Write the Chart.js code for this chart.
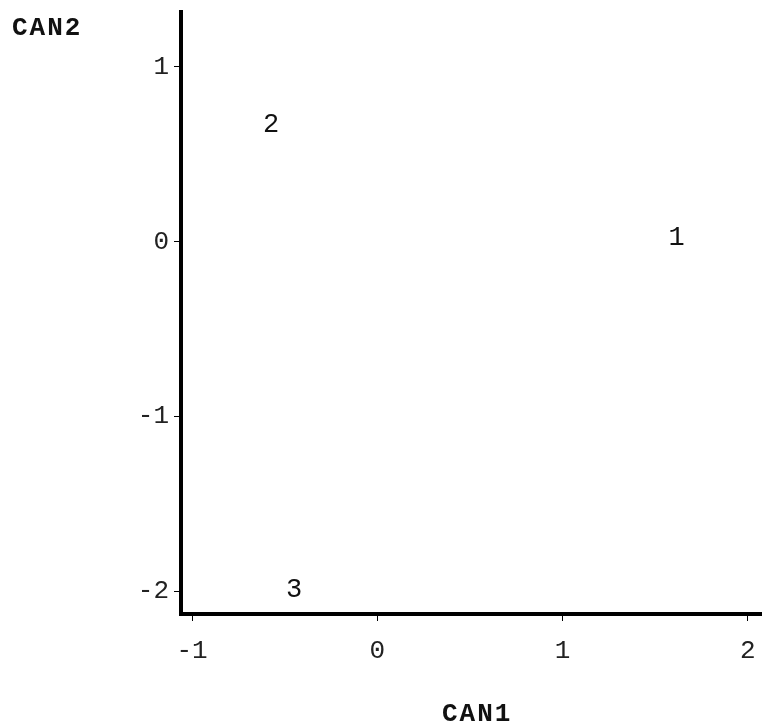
<!DOCTYPE html>
<html>
<head>
<meta charset="utf-8">
<script src="https://cdn.jsdelivr.net/npm/chart.js@4/dist/chart.umd.min.js"></script>
<style>
  html, body { margin: 0; padding: 0; background: #fff; }
  #wrap { width: 762px; height: 726px; }
</style>
</head>
<body>
<div id="wrap"><canvas id="canChart"></canvas></div>
<script>
const groupLabels = ["1", "2", "3"];
const can1 = [1.615, -0.574, -0.45];
const can2 = [0.02, 0.67, -1.99];
const xTicks = [-1, 0, 1, 2];
const yTicks = [-2, -1, 0, 1];
const xTitle = "CAN1";
const yTitle = "CAN2";

const monoFont = "'Liberation Mono', 'DejaVu Sans Mono', monospace";

// draws the group numbers at the scatter positions plus both axis titles
const labelPlugin = {
  id: "groupText",
  afterDatasetsDraw(chart) {
    const ctx = chart.ctx;
    const meta = chart.getDatasetMeta(0);
    ctx.save();
    ctx.fillStyle = "#111";
    ctx.font = "27px " + monoFont;
    ctx.textAlign = "center";
    ctx.textBaseline = "middle";
    meta.data.forEach((pt, i) => {
      ctx.fillText(groupLabels[i], pt.x, pt.y);
    });
    ctx.font = "bold 26px " + monoFont;
    if ("letterSpacing" in ctx) ctx.letterSpacing = "2px";
    ctx.textAlign = "left";
    ctx.fillText(yTitle, 12, 28);
    ctx.fillText(xTitle, 442, 714);
    ctx.restore();
  }
};

const points = can1.map((x, i) => ({ x: x, y: can2[i] }));

new Chart(document.getElementById("canChart"), {
  type: "scatter",
  data: {
    datasets: [{
      data: points,
      pointRadius: 0,
      pointHoverRadius: 0
    }]
  },
  options: {
    responsive: true,
    maintainAspectRatio: false,
    animation: false,
    layout: { padding: { top: 12, right: 0, left: 0, bottom: 0 } },
    plugins: {
      legend: { display: false },
      tooltip: { enabled: false }
    },
    scales: {
      x: {
        type: "linear",
        min: -1.06,
        max: 2.076,
        afterBuildTicks: (scale) => { scale.ticks = xTicks.map(v => ({ value: v })); },
        afterFit: (scale) => {
          scale.height = 112;
          scale.paddingLeft = 0;
          scale.paddingRight = 0;
        },
        grid: { drawOnChartArea: false, color: "#000", tickLength: 7, lineWidth: 1 },
        border: { color: "#000", width: 4 },
        ticks: {
          color: "#222",
          padding: 15,
          font: { family: monoFont, size: 26 }
        }
      },
      y: {
        type: "linear",
        min: -2.129,
        max: 1.314,
        afterBuildTicks: (scale) => { scale.ticks = yTicks.map(v => ({ value: v })); },
        afterFit: (scale) => {
          scale.width = 181;
          scale.paddingTop = 0;
          scale.paddingBottom = 0;
        },
        grid: { drawOnChartArea: false, color: "#000", tickLength: 7, lineWidth: 1 },
        border: { color: "#000", width: 4 },
        ticks: {
          color: "#222",
          padding: 5,
          font: { family: monoFont, size: 26 }
        }
      }
    }
  },
  plugins: [labelPlugin]
});
</script>
</body>
</html>
